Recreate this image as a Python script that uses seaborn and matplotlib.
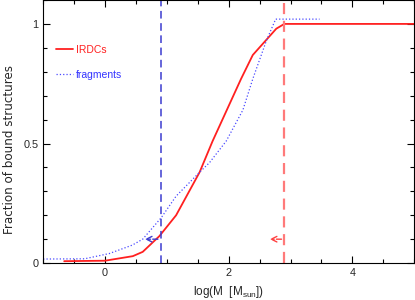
import matplotlib
matplotlib.use("Agg")
import matplotlib.pyplot as plt
import seaborn as sns
import pandas as pd
from matplotlib.ticker import MultipleLocator

sns.set_style("ticks")
plt.rcParams["font.family"] = ["Liberation Sans", "DejaVu Sans"]
plt.rcParams["mathtext.fontset"] = "custom"
plt.rcParams["mathtext.rm"] = "Liberation Sans"

# cumulative fraction of bound structures vs log mass
irdc_logm = [-0.66, 0.0, 0.45, 0.61, 0.88, 1.15, 1.53, 1.74, 2.20, 2.39, 2.77, 2.90, 5.0]
irdc_frac = [0.008, 0.010, 0.029, 0.047, 0.113, 0.20, 0.38, 0.51, 0.77, 0.87, 0.98, 1.0, 1.0]

frag_logm = [-1.0, -0.33, 0.07, 0.44, 0.61, 0.91, 1.15, 1.53, 1.69, 1.96, 2.23, 2.39, 2.61, 2.76, 3.47]
frag_frac = [0.017, 0.018, 0.04, 0.075, 0.10, 0.19, 0.28, 0.38, 0.42, 0.51, 0.64, 0.77, 0.93, 1.02, 1.02]

# mass thresholds and arrow ends
frag_limit, frag_arrow_end = 0.9, 0.6
irdc_limit, irdc_arrow_end = 2.9, 2.62
arrow_y = 0.1

df_irdc = pd.DataFrame({"logm": irdc_logm, "frac": irdc_frac})
df_frag = pd.DataFrame({"logm": frag_logm, "frac": frag_frac})

red = "#ff2020"
blue = "#4a4aff"

fig = plt.figure(figsize=(4.15, 3.0), dpi=100)
ax = fig.add_axes([0.104, 0.123, 0.894, 0.877])

sns.lineplot(data=df_irdc, x="logm", y="frac", color=red, lw=1.3, ax=ax,
             label="IRDCs", sort=False)
sns.lineplot(data=df_frag, x="logm", y="frac", color=blue, lw=0.9, ax=ax,
             label="fragments", sort=False, linestyle=":")

ax.axvline(frag_limit, color="#3c3cd0", lw=1.1, ls=(0, (5, 3)))
ax.axvline(irdc_limit, color="#ff7a7a", lw=1.6, ls=(0, (5, 3)))

ax.annotate("", xy=(frag_arrow_end, arrow_y), xytext=(frag_limit, arrow_y),
            arrowprops=dict(arrowstyle="->", color="#3c3cd0", lw=1.0, ls="--"))
ax.annotate("", xy=(irdc_arrow_end, arrow_y), xytext=(irdc_limit, arrow_y),
            arrowprops=dict(arrowstyle="->", color="#ff4040", lw=1.0, ls="--"))

ax.set_xlim(-1, 5)
ax.set_ylim(0, 1.1)
ax.xaxis.set_major_locator(MultipleLocator(2))
ax.xaxis.set_minor_locator(MultipleLocator(0.5))
ax.yaxis.set_minor_locator(MultipleLocator(0.1))
ax.set_yticks([0, 0.5, 1])
ax.set_yticklabels(["0", "0.5", "1"])
ax.tick_params(which="both", direction="in", top=True, right=True,
               labelsize=7.8, width=0.8, color="black")
ax.tick_params(which="major", length=5)
ax.tick_params(which="minor", length=3)
for s in ax.spines.values():
    s.set_linewidth(0.8)
    s.set_color("black")

ax.set_xlabel(r"log(M  [M$_{\rm sun}$])", fontsize=8.5, labelpad=4)
ax.set_ylabel("Fraction of bound structures", fontsize=8.6,
              family=["DejaVu Sans"])
ax.yaxis.set_label_coords(-0.074, 0.43)

leg = ax.legend(loc="upper left", bbox_to_anchor=(0.01, 0.865), frameon=False,
                handlelength=1.6, handletextpad=0.3, labelspacing=1.45,
                fontsize=7.5, labelcolor=[red, "#3333ff"])

fig.savefig("out.png", dpi=100)
